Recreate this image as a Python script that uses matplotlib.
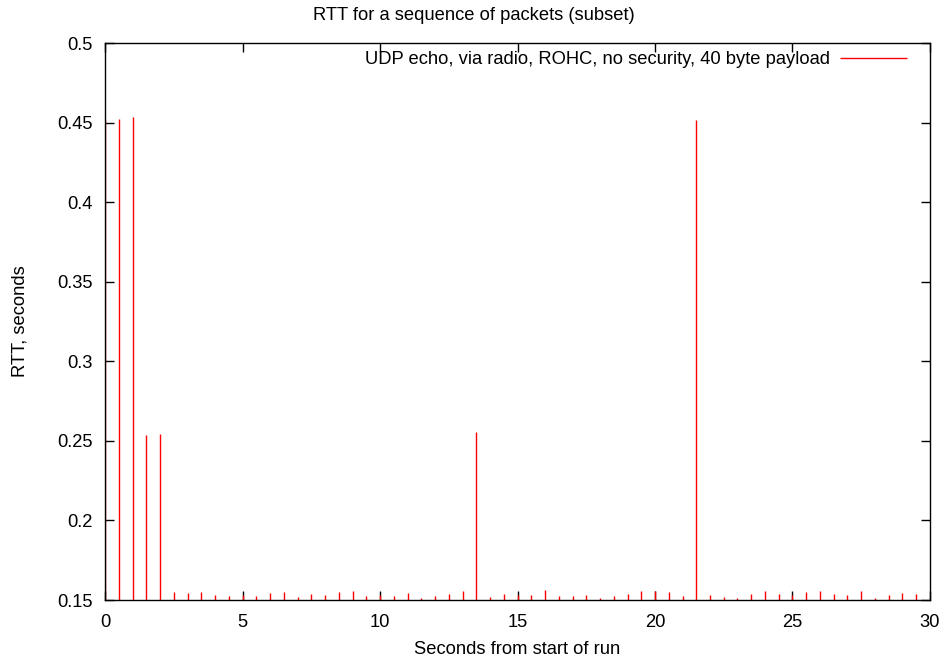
import matplotlib
matplotlib.use("Agg")
import matplotlib.pyplot as plt
from matplotlib.ticker import FuncFormatter

plt.rcParams['font.family'] = ['Liberation Sans', 'DejaVu Sans']

# packet send times (s) and measured round trip times (s)
seconds = [0.0, 0.5, 1.0, 1.5, 2.0, 2.5, 3.0, 3.5, 4.0, 4.5,
           5.0, 5.5, 6.0, 6.5, 7.0, 7.5, 8.0, 8.5, 9.0, 9.5,
           10.0, 10.5, 11.0, 11.5, 12.0, 12.5, 13.0, 13.5, 14.0, 14.5,
           15.0, 15.5, 16.0, 16.5, 17.0, 17.5, 18.0, 18.5, 19.0, 19.5,
           20.0, 20.5, 21.0, 21.5, 22.0, 22.5, 23.0, 23.5, 24.0, 24.5,
           25.0, 25.5, 26.0, 26.5, 27.0, 27.5, 28.0, 28.5, 29.0, 29.5]
rtt = [0.4520, 0.4520, 0.4535, 0.2536, 0.2543, 0.1548, 0.1544, 0.1548, 0.1534, 0.1525,
       0.1530, 0.1525, 0.1544, 0.1550, 0.1521, 0.1537, 0.1534, 0.1550, 0.1554, 0.1525,
       0.1530, 0.1525, 0.1546, 0.1515, 0.1525, 0.1537, 0.1556, 0.2556, 0.1519, 0.1537,
       0.1530, 0.1531, 0.1565, 0.1525, 0.1525, 0.1530, 0.1513, 0.1525, 0.1535, 0.1556,
       0.1554, 0.1550, 0.1525, 0.4515, 0.1534, 0.1517, 0.1513, 0.1537, 0.1554, 0.1539,
       0.1530, 0.1550, 0.1554, 0.1537, 0.1534, 0.1558, 0.1513, 0.1530, 0.1546, 0.1539]

series_label = "UDP echo, via radio, ROHC, no security, 40 byte payload"
x_ticks = [0, 5, 10, 15, 20, 25, 30]
y_ticks = [0.15, 0.2, 0.25, 0.3, 0.35, 0.4, 0.45, 0.5]

fig = plt.figure(figsize=(9.47, 6.6), dpi=100)
ax = fig.add_axes([0.111, 0.0909, 0.871, 0.8439])

ymin = 0.15
ax.vlines(seconds, ymin, rtt, colors='#ff0000', linewidth=1.0, label=series_label)

ax.set_xlim(0, 30)
ax.set_ylim(0.15, 0.5)
ax.set_xticks(x_ticks)
ax.set_yticks(y_ticks)
ax.yaxis.set_major_formatter(FuncFormatter(lambda v, p: '%g' % v))
ax.tick_params(direction='in', length=6.5, width=1, top=True, right=True,
               labelsize=13.2, color='black')
ax.tick_params(axis='x', pad=10)
ax.tick_params(axis='y', pad=9)
for s in ax.spines.values():
    s.set_linewidth(1.0)
    s.set_color('black')

ax.set_xlabel("Seconds from start of run", fontsize=13.2, labelpad=7)
fig.text(0.021, 0.0909 + 0.8439 / 2, "RTT, seconds", rotation=90,
         fontsize=13.2, ha='center', va='center')
fig.text(0.5, 0.976, "RTT for a sequence of packets (subset)", fontsize=13.2,
         ha='center', va='center')

ax.legend(loc='center right', bbox_to_anchor=(0.9815, 0.97), frameon=False,
          markerfirst=False, handlelength=3.7, handletextpad=0.5,
          fontsize=13.2, borderaxespad=0)

fig.savefig("out.png", dpi=100)
